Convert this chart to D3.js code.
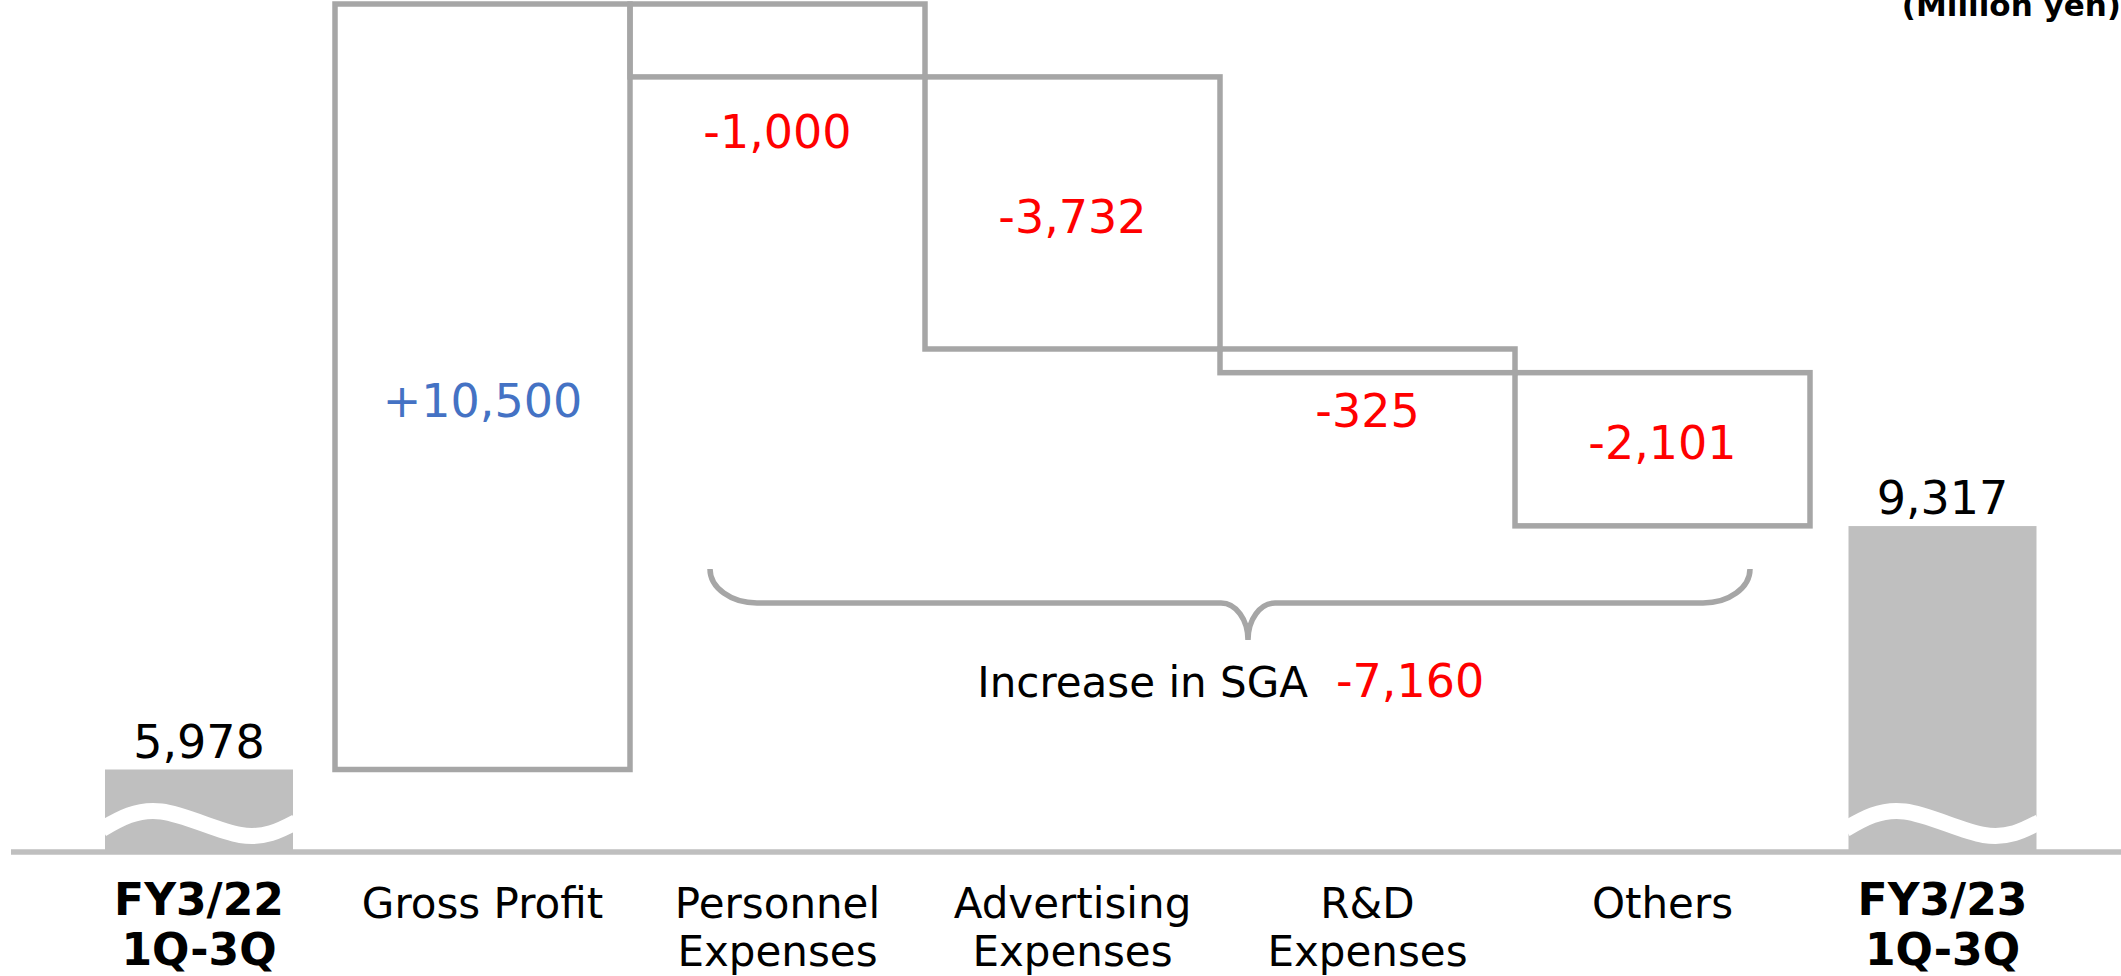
<!DOCTYPE html>
<html><head><meta charset="utf-8">
<script src="https://cdn.jsdelivr.net/npm/d3@7"></script>
<style>html,body{margin:0;padding:0;background:#fff;overflow:hidden;} svg{display:block;}</style>
</head><body>
<svg id="chart" width="2121" height="976"></svg>
<script>
// ---------- data ----------
const categories = ["FY3/22 1Q-3Q", "Gross Profit", "Personnel Expenses", "Advertising Expenses", "R&D Expenses", "Others", "FY3/23 1Q-3Q"];
const categoryLines = [["FY3/22", "1Q-3Q"], ["Gross Profit"], ["Personnel", "Expenses"], ["Advertising", "Expenses"], ["R&D", "Expenses"], ["Others"], ["FY3/23", "1Q-3Q"]];
const categoryBold = [true, false, false, false, false, false, true];
const startValue = 5978;
const endValue = 9317;
const deltaCategories = ["Gross Profit", "Personnel Expenses", "Advertising Expenses", "R&D Expenses", "Others"];
const deltaValues = [10500, -1000, -3732, -325, -2101];
const deltaLabels = ["+10,500", "-1,000", "-3,732", "-325", "-2,101"];
const startLabel = "5,978";
const endLabel = "9,317";
const sgaText = "Increase in SGA";
const sgaTotalLabel = "-7,160";
const unitText = "(Million yen)";

// ---------- layout ----------
const W = 2121, H = 976;
const baseY = 852;
const svg = d3.select("#chart");
const FONT = "'DejaVu Sans', Verdana, sans-serif";
const GRAY = "#A6A6A6", BARGRAY = "#BFBFBF", RED = "#FF0000", BLUE = "#4472C4";
// label placement per step: "mid" = inside box (offset from middle), "below" = under box bottom
const labelPlace = [["mid", 30], ["below", 71], ["mid", 20], ["below", 54], ["mid", 10]];

// cumulative steps
let run = startValue;
const steps = deltaCategories.map((c, i) => {
  const from = run; run += deltaValues[i];
  return {cat: c, from: from, to: run, label: deltaLabels[i], value: deltaValues[i], place: labelPlace[i]};
});
const topValue = d3.max(steps, d => Math.max(d.from, d.to));

const x = d3.scaleBand().domain(categories).range([40, 2105]).padding(0);
const bw = x.bandwidth();
const y = d3.scaleLinear().domain([startValue, topValue]).range([769.5, 4]);

// baseline
svg.append("line").attr("x1", 11).attr("x2", W).attr("y1", baseY).attr("y2", baseY)
  .attr("stroke", BARGRAY).attr("stroke-width", 5.5);

// end bars (broken axis)
const endBars = [
  {cat: categories[0], value: startValue, label: startLabel, shift: 11.5},
  {cat: categories[6], value: endValue, label: endLabel, shift: -15}
];
const endW = 188;
const wave = d3.line().curve(d3.curveNatural);
endBars.forEach(b => {
  const cx = x(b.cat) + bw / 2 + b.shift;
  const x0 = cx - endW / 2;
  svg.append("rect").attr("x", x0).attr("width", endW)
    .attr("y", y(b.value)).attr("height", baseY - 2 - y(b.value))
    .attr("fill", BARGRAY);
  svg.append("path")
    .attr("d", wave([[x0 - 3, baseY - 23], [x0 + 0.3 * endW, baseY - 40.5], [x0 + 0.72 * endW, baseY - 17], [x0 + endW + 3, baseY - 30]]))
    .attr("fill", "none").attr("stroke", "#fff").attr("stroke-width", 16);
  svg.append("text").attr("x", cx).attr("y", y(b.value) - 12)
    .attr("text-anchor", "middle").attr("font-family", FONT).attr("font-size", 46)
    .attr("fill", "#000").text(b.label);
});

// waterfall boxes
svg.selectAll("rect.step").data(steps).join("rect").attr("class", "step")
  .attr("x", d => x(d.cat)).attr("width", bw)
  .attr("y", d => y(Math.max(d.from, d.to)))
  .attr("height", d => Math.abs(y(d.from) - y(d.to)))
  .attr("fill", "none").attr("stroke", GRAY).attr("stroke-width", 5.5);

// step labels
svg.selectAll("text.step").data(steps).join("text").attr("class", "step")
  .attr("x", d => x(d.cat) + bw / 2)
  .attr("y", d => {
    const yt = y(Math.max(d.from, d.to)), yb = y(Math.min(d.from, d.to));
    return d.place[0] === "below" ? yb + d.place[1] : (yt + yb) / 2 + d.place[1];
  })
  .attr("text-anchor", "middle").attr("font-family", FONT).attr("font-size", 46)
  .attr("fill", d => d.value > 0 ? BLUE : RED).text(d => d.label);

// brace over SGA items
const L = x("Personnel Expenses") + 80, R = x("Others") + bw - 60;
const C = (L + R) / 2 + 18;
const yTop = 569, yMid = 603, yTip = 640;
const rx = 47, cxr = 27, k = 0.5523;
const bp = d3.path();
bp.moveTo(L, yTop);
bp.bezierCurveTo(L, yTop + k * (yMid - yTop), L + rx - k * rx, yMid, L + rx, yMid);
bp.lineTo(C - cxr, yMid);
bp.bezierCurveTo(C - cxr + k * cxr, yMid, C, yTip - k * (yTip - yMid), C, yTip);
bp.bezierCurveTo(C, yTip - k * (yTip - yMid), C + cxr - k * cxr, yMid, C + cxr, yMid);
bp.lineTo(R - rx, yMid);
bp.bezierCurveTo(R - rx + k * rx, yMid, R, yTop + k * (yMid - yTop), R, yTop);
svg.append("path").attr("d", bp.toString()).attr("fill", "none")
  .attr("stroke", GRAY).attr("stroke-width", 5.5);

svg.append("text").attr("x", C + 60).attr("y", 697).attr("text-anchor", "end")
  .attr("font-family", FONT).attr("font-size", 42).attr("fill", "#000").text(sgaText);
svg.append("text").attr("x", C + 88).attr("y", 697).attr("text-anchor", "start")
  .attr("font-family", FONT).attr("font-size", 46).attr("fill", RED).text(sgaTotalLabel);

// category labels
categories.forEach((c, i) => {
  let cx = x(c) + bw / 2;
  if (i === 0) cx += 11.5;
  if (i === 6) cx -= 15;
  const bold = categoryBold[i];
  const t = svg.append("text").attr("text-anchor", "middle").attr("font-family", FONT)
    .attr("font-size", bold ? 44 : 42).attr("font-weight", bold ? "bold" : "normal").attr("fill", "#000");
  categoryLines[i].forEach((ln, j) => {
    t.append("tspan").attr("x", cx).attr("y", bold ? 915 + j * 50 : 918 + j * 48).text(ln);
  });
});

// unit
svg.append("text").attr("x", 2121).attr("y", 16).attr("text-anchor", "end")
  .attr("font-family", FONT).attr("font-size", 31).attr("font-weight", "bold")
  .attr("fill", "#000").text(unitText);
</script>
</body></html>
